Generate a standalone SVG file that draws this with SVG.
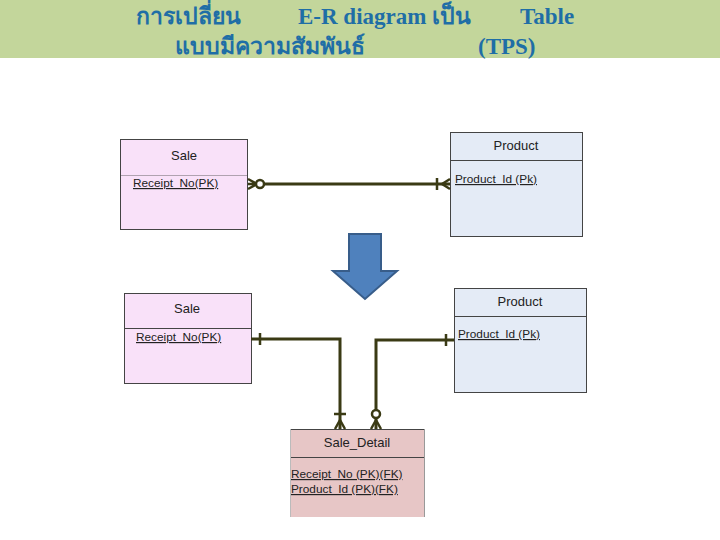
<svg xmlns="http://www.w3.org/2000/svg" width="720" height="540" viewBox="0 0 720 540">
<style>
.title{font-family:"Liberation Serif","Noto Sans","DejaVu Sans",serif;font-weight:bold;font-size:23px;fill:#1f6ea6}
.hd{font-family:"Liberation Sans",Arial,sans-serif;font-size:13px;fill:#222;text-anchor:middle}
.at{font-family:"Liberation Sans",Arial,sans-serif;font-size:11.8px;fill:#222;text-decoration:underline}
.box{stroke:#444;stroke-width:1}
.div{stroke:#444;stroke-width:1}
.ln{fill:none;stroke:#3a3a14;stroke-width:3}
.mk{fill:none;stroke:#3a3a14;stroke-width:2.5}
</style>
<rect width="720" height="540" fill="#ffffff"/>
<g id="title">
<rect x="0" y="0" width="720" height="58" fill="#c3d69b"/>
<text class="title" x="136" y="24">การเปลี่ยน</text>
<text class="title" x="298" y="24">E-R diagram เป็น</text>
<text class="title" x="520" y="24">Table</text>
<text class="title" x="175" y="54">แบบมีความสัมพันธ์</text>
<text class="title" x="478" y="54">(TPS)</text>
</g>
<g id="sale-top">
<rect class="box" x="120.5" y="139.5" width="127" height="90" fill="#f9e1f9"/>
<line class="div" x1="120.5" y1="175.5" x2="247.5" y2="175.5" stroke-opacity="0.4"/>
<text class="hd" x="184" y="160">Sale</text>
<text class="at" x="133" y="187">Receipt_No(PK)</text>
</g>
<g id="product-top">
<rect class="box" x="450.5" y="132.5" width="132" height="104" fill="#e4ebf6"/>
<line class="div" x1="450.5" y1="160.5" x2="582.5" y2="160.5"/>
<text class="hd" x="516" y="150">Product</text>
<text class="at" x="455" y="183">Product_Id (Pk)</text>
</g>
<g id="arrow">
<path d="M349 234 H381 V271 H397 L365 299 L333 271 H349 Z" fill="#4f81bd" stroke="#385d8a" stroke-width="2"/>
</g>
<g id="sale-bottom">
<rect class="box" x="124.5" y="293.5" width="127" height="90" fill="#f9e1f9"/>
<line class="div" x1="124.5" y1="328.5" x2="251.5" y2="328.5"/>
<text class="hd" x="187" y="313">Sale</text>
<text class="at" x="136" y="341">Receipt_No(PK)</text>
</g>
<g id="product-bottom">
<rect class="box" x="454.5" y="288.5" width="132" height="104" fill="#e4ebf6"/>
<line class="div" x1="454.5" y1="316.5" x2="586.5" y2="316.5"/>
<text class="hd" x="520" y="306">Product</text>
<text class="at" x="458" y="338">Product_Id (Pk)</text>
</g>
<g id="sale-detail">
<rect x="290" y="429" width="134" height="88" fill="#e7c6c6"/>
<line class="div" x1="290" y1="429.5" x2="424" y2="429.5"/>
<line class="div" x1="290" y1="457.5" x2="424" y2="457.5"/>
<line x1="424.5" y1="429" x2="424.5" y2="517" stroke="#999" stroke-width="1"/>
<line x1="290.5" y1="429" x2="290.5" y2="517" stroke="#bbb" stroke-width="1"/>
<text class="hd" x="357" y="447">Sale_Detail</text>
<text class="at" x="291" y="478">Receipt_No (PK)(FK)</text>
<text class="at" x="291" y="493">Product_Id (PK)(FK)</text>
</g>
<g id="connectors">
<line class="ln" x1="264" y1="184" x2="450" y2="184"/>
<path class="mk" d="M257 184 L248 179 M257 184 L248 184 M257 184 L248 189"/>
<circle cx="260" cy="184" r="4" fill="#ffffff" stroke="#3a3a14" stroke-width="2.5"/>
<path class="mk" d="M437 178 V190 M442 184 L450 179 M442 184 L450 189"/>
<polyline class="ln" points="251,339 340,339 340,429"/>
<path class="mk" d="M260 333 V345 M334 414 H346 M340 420 L335 429 M340 420 L345 429"/>
<polyline class="ln" points="454,340 376,340 376,410"/>
<line class="ln" x1="376" y1="418" x2="376" y2="429"/>
<path class="mk" d="M446 334 V346 M376 420 L371 429 M376 420 L381 429"/>
<circle cx="376" cy="414" r="4" fill="#ffffff" stroke="#3a3a14" stroke-width="2.5"/>
</g>
</svg>
